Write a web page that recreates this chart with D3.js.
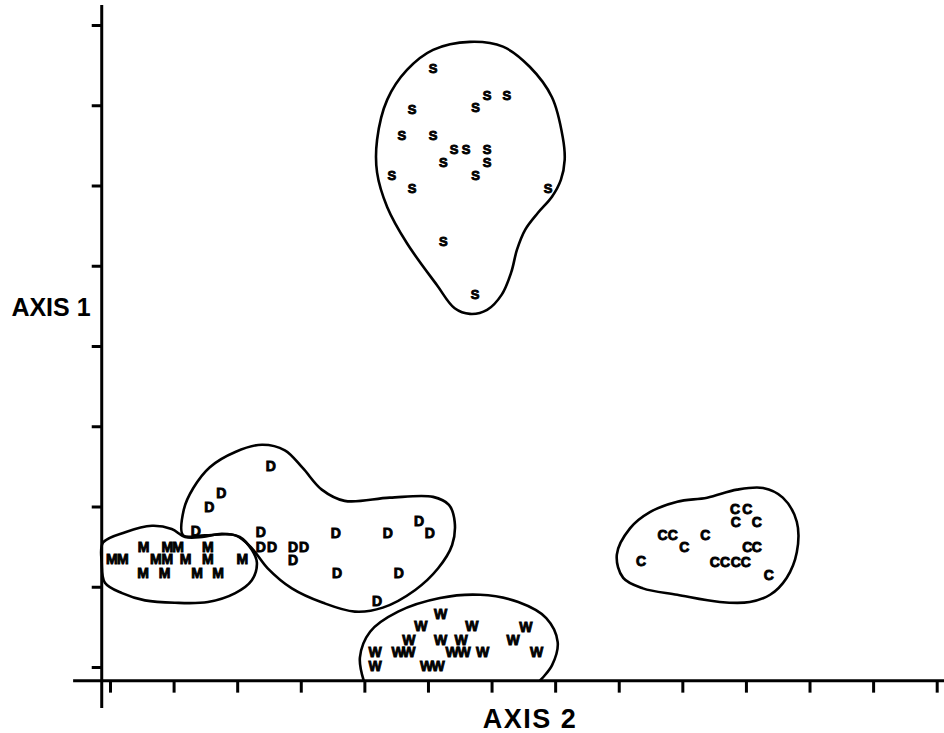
<!DOCTYPE html>
<html>
<head>
<meta charset="utf-8">
<script src="https://cdn.jsdelivr.net/npm/d3@7"></script>
<style>
  html, body { margin: 0; padding: 0; background: #fff; }
  svg { display: block; }
  .pt { font-family: "Liberation Sans", Arial, sans-serif; font-weight: bold; font-size: 14px; fill: #000; stroke: #000; stroke-width: 0.9px; }
  .axlab { font-family: "Liberation Sans", Arial, sans-serif; font-weight: bold; fill: #000; }
</style>
</head>
<body>
<svg id="chart" width="944" height="733"></svg>
<script>
// ---- Data (axis units: x = Axis 2 tick index, y = Axis 1 tick index) ----
const xTicks = d3.range(0, 14);
const yTicks = d3.range(0, 9);

const groupS = [[5.08,7.46],[5.93,7.12],[6.24,7.12],[4.75,6.95],[5.75,6.97],[4.59,6.63],[5.08,6.63],
  [5.41,6.45],[5.60,6.45],[5.93,6.45],[5.24,6.29],[5.93,6.29],[4.43,6.13],[5.75,6.13],[4.75,5.97],
  [6.89,5.97],[5.24,5.31],[5.74,4.65]];
const groupD = [[2.53,2.50],[1.75,2.17],[1.56,1.99],[1.35,1.69],[2.37,1.68],[2.37,1.50],[2.55,1.50],
  [2.88,1.50],[3.05,1.50],[2.88,1.33],[3.55,1.67],[4.37,1.67],[4.86,1.82],[5.03,1.67],[3.57,1.17],
  [4.54,1.17],[4.20,0.82]];
const groupM = [[0.53,1.50],[0.90,1.50],[1.07,1.50],[1.54,1.50],
  [0.03,1.35],[0.20,1.35],[0.72,1.35],[0.90,1.35],[1.19,1.35],[1.54,1.35],[2.08,1.35],
  [0.52,1.17],[0.86,1.17],[1.37,1.17],[1.70,1.17]];
const groupW = [[5.20,0.66],[4.89,0.51],[5.69,0.51],[6.54,0.50],[4.70,0.34],[5.20,0.34],[5.52,0.34],
  [6.34,0.34],[4.17,0.19],[4.53,0.19],[4.70,0.19],[5.38,0.19],[5.57,0.19],[5.86,0.19],[6.71,0.19],
  [4.17,0.01],[4.98,0.01],[5.16,0.01]];
const groupC = [[9.83,1.97],[10.02,1.97],[9.84,1.81],[10.17,1.81],[8.69,1.64],[8.85,1.64],[9.36,1.64],
  [9.03,1.50],[10.02,1.50],[10.17,1.50],[8.35,1.32],[9.51,1.31],[9.67,1.31],[9.84,1.31],[10.00,1.31],
  [10.36,1.15]];

const envS = [[5.66,7.79],[6.18,7.73],[6.60,7.48],[6.95,7.10],[7.12,6.60],[7.15,6.32],[7.09,6.07],
  [6.95,5.86],[6.73,5.66],[6.53,5.45],[6.40,5.20],[6.31,4.92],[6.16,4.64],[5.93,4.45],[5.66,4.40],
  [5.42,4.47],[5.14,4.76],
  [4.67,5.28],[4.36,5.73],[4.20,6.16],[4.20,6.57],[4.36,7.07],[4.67,7.44],[5.08,7.69]];
const envM = [[-0.11,1.55],[0.24,1.68],[0.66,1.76],[0.97,1.72],[1.18,1.62],[1.45,1.62],[1.76,1.66],
  [2.04,1.62],[2.23,1.46],[2.31,1.30],[2.23,1.08],[1.97,0.92],[1.54,0.81],[1.02,0.80],[0.55,0.83],
  [0.19,0.92],[-0.08,1.05],[-0.13,1.30]];
const envD = [[1.15,1.64],[1.16,1.96],[1.31,2.23],[1.57,2.49],[1.97,2.68],[2.39,2.77],[2.75,2.70],
  [3.03,2.48],[3.33,2.21],[3.69,2.07],[4.40,2.11],[5.08,2.12],[5.33,2.02],[5.42,1.81],[5.38,1.52],
  [5.16,1.23],[4.80,0.96],[4.29,0.74],[3.85,0.69],[3.35,0.80],[2.86,0.98],[2.48,1.23],[2.23,1.48],
  [1.97,1.64],[1.49,1.64]];
const envW = [[3.99,-0.17],[3.93,0.12],[4.09,0.44],[4.53,0.69],[5.19,0.86],[5.82,0.90],[6.42,0.81],
  [6.86,0.61],[7.04,0.31],[6.95,0.02],[6.76,-0.17]];
const envC = [[7.97,1.40],[8.18,1.73],[8.49,1.93],[8.92,2.06],[9.39,2.11],[9.86,2.21],[10.27,2.23],
  [10.58,2.11],[10.80,1.81],[10.80,1.43],[10.64,1.11],[10.38,0.90],[10.06,0.81],[9.59,0.81],
  [8.92,0.90],[8.38,0.98],[8.07,1.11]];

const groups = [
  {label: "S", pts: groupS, env: envS, closed: true},
  {label: "D", pts: groupD, env: envD, closed: true},
  {label: "M", pts: groupM, env: envM, closed: true},
  {label: "W", pts: groupW, env: envW, closed: false},
  {label: "C", pts: groupC, env: envC, closed: true}
];

// ---- Scales ----
const x = d3.scaleLinear().domain([0, 13]).range([110, 936.7]);
const y = d3.scaleLinear().domain([0, 8]).range([667, 25]);
const yAxisAt = -0.13, xAxisAt = -0.17;

const svg = d3.select("#chart");

// envelopes
const lineClosed = d3.line().x(d => x(d[0])).y(d => y(d[1])).curve(d3.curveCatmullRomClosed.alpha(0.5));
const lineOpen = d3.line().x(d => x(d[0])).y(d => y(d[1])).curve(d3.curveCatmullRom.alpha(0.5));
svg.append("g").selectAll("path").data(groups).join("path")
  .attr("d", g => (g.closed ? lineClosed : lineOpen)(g.env))
  .attr("fill", "none").attr("stroke", "#000").attr("stroke-width", 2.6);

// points as letters
groups.forEach(g => {
  svg.append("g").selectAll("text").data(g.pts).join("text")
    .attr("class", "pt")
    .attr("x", d => x(d[0])).attr("y", d => y(d[1]))
    .attr("dy", "0.36em").attr("text-anchor", "middle")
    .style("font-size", g.label === "S" ? "13px" : "14px")
    .text(g.label);
});

// x axis
const gx = svg.append("g").attr("transform", `translate(0,${y(xAxisAt)})`)
  .call(d3.axisBottom(x).tickValues(xTicks).tickSize(12).tickSizeOuter(0).tickFormat(""));
gx.select(".domain").remove();
gx.selectAll(".tick line").attr("stroke", "#000").attr("stroke-width", 3);
gx.append("line").attr("x1", x(-0.58)).attr("x2", x(13.12)).attr("stroke", "#000").attr("stroke-width", 3);

// y axis
const gy = svg.append("g").attr("transform", `translate(${x(yAxisAt)},0)`)
  .call(d3.axisLeft(y).tickValues(yTicks).tickSize(10).tickSizeOuter(0).tickFormat(""));
gy.select(".domain").remove();
gy.selectAll(".tick line").attr("stroke", "#000").attr("stroke-width", 3);
gy.append("line").attr("y1", y(8.25)).attr("y2", y(-0.51)).attr("stroke", "#000").attr("stroke-width", 3);

// axis titles
svg.append("text").attr("class", "axlab").attr("x", 51).attr("y", y(4.49))
  .attr("dy", "0.36em").attr("text-anchor", "middle").style("font-size", "25px").text("AXIS 1");
svg.append("text").attr("class", "axlab").attr("x", 530).attr("y", 728)
  .attr("text-anchor", "middle").style("font-size", "27px").style("letter-spacing", "1.5px").text("AXIS 2");
</script>
</body>
</html>
